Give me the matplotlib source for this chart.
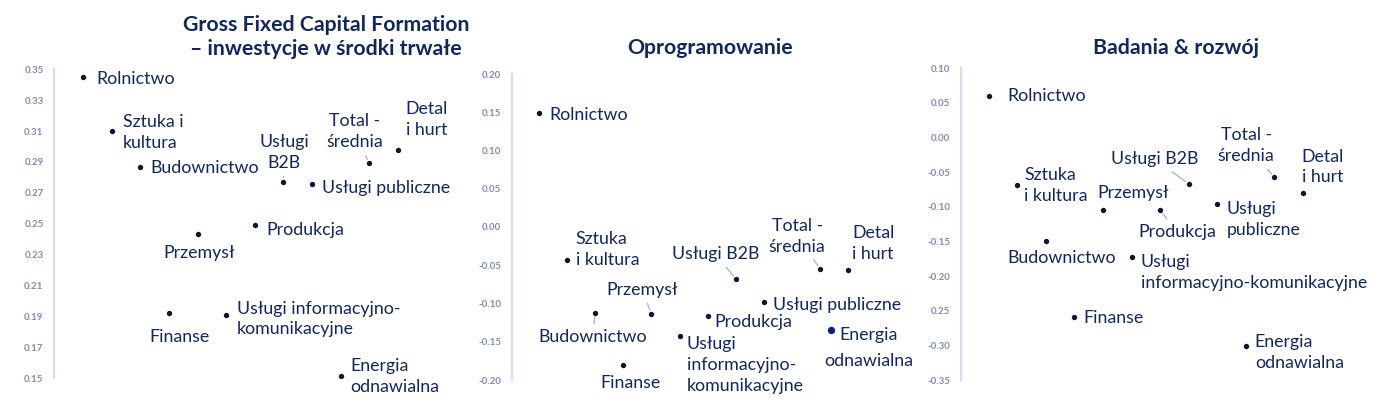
import matplotlib.pyplot as plt

plt.rcParams['font.family'] = ['Lato', 'DejaVu Sans']

# sectors, in the order they sit along the (hidden) x axis
sectors = ['Rolnictwo', 'Sztuka i kultura', 'Budownictwo', 'Finanse', 'Przemysł',
           'Usługi informacyjno-komunikacyjne', 'Produkcja', 'Usługi B2B',
           'Usługi publiczne', 'Energia odnawialna', 'Total - średnia', 'Detal i hurt']
x_gfcf = [0, 1, 2, 3, 4, 5, 6, 7, 8, 9, 10, 11]
x_soft = [0, 1, 2, 3, 4, 5, 6, 7, 8, 10.4, 10, 11]
x_rnd = [0, 1, 2, 3, 4, 5, 6, 7, 8, 9, 10, 11]

gfcf = [0.345, 0.310, 0.287, 0.192, 0.243, 0.1905, 0.249, 0.277, 0.276, 0.1515, 0.289, 0.298]
soft = [0.149, -0.043, -0.112, -0.181, -0.114, -0.143, -0.116, -0.068, -0.0985, -0.135, -0.055, -0.056]
rnd = [0.060, -0.069, -0.150, -0.259, -0.105, -0.172, -0.105, -0.067, -0.096, -0.301, -0.057, -0.080]

titles = ['Gross Fixed Capital Formation\n– inwestycje w środki trwałe', 'Oprogramowanie', 'Badania & rozwój']

ticks_gfcf = [0.35, 0.33, 0.31, 0.29, 0.27, 0.25, 0.23, 0.21, 0.19, 0.17, 0.15]
ticks_soft = [0.20, 0.15, 0.10, 0.05, 0.00, -0.05, -0.10, -0.15, -0.20]
ticks_rnd = [0.10, 0.05, 0.00, -0.05, -0.10, -0.15, -0.20, -0.25, -0.30, -0.35]
ticklab_gfcf = ['0.35', '0.33', '0.31', '0.29', '0.27', '0.25', '0.23', '0.21', '0.19', '0.17', '0.15']
ticklab_soft = ['0.20', '0.15', '0.10', '0.05', '0.00', '-0.05', '-0.10', '-0.15', '-0.20']
ticklab_rnd = ['0.10', '0.05', '0.00', '-0.05', '-0.10', '-0.15', '-0.20', '0.25', '-0.30', '-0.35']

# label text per panel (line breaks differ between panels)
lab_gfcf = ['Rolnictwo', 'Sztuka i\nkultura', 'Budownictwo', 'Finanse', 'Przemysł',
            'Usługi informacyjno-\nkomunikacyjne', 'Produkcja', 'Usługi\nB2B',
            'Usługi publiczne', 'Energia\nodnawialna', 'Total -\nśrednia', 'Detal\ni hurt']
lab_soft = ['Rolnictwo', 'Sztuka\ni kultura', 'Budownictwo', 'Finanse', 'Przemysł',
            'Usługi\ninformacyjno-\nkomunikacyjne', 'Produkcja', 'Usługi B2B',
            'Usługi publiczne', 'Energia', 'Total -\nśrednia', 'Detal\ni hurt']
lab_rnd = ['Rolnictwo', 'Sztuka\ni kultura', 'Budownictwo', 'Finanse', 'Przemysł',
           'Usługi\ninformacyjno-komunikacyjne', 'Produkcja', 'Usługi B2B',
           'Usługi\npubliczne', 'Energia\nodnawialna', 'Total -\nśrednia', 'Detal\ni hurt']

# label placement: (dx px, dy px downward, ha, leader line)
off_gfcf = [(13, 1.6, 'left', 0), (11, 1.5, 'left', 0), (10, 1, 'left', 0), (10, 24, 'center', 0),
            (2, 18.7, 'center', 0), (10.4, 3.5, 'left', 0), (11.3, 4.7, 'left', 0),
            (0.7, -29.5, 'center', 1), (10, 4.4, 'left', 0), (9.7, 0.8, 'left', 0),
            (-14.3, -31.5, 'center', 1), (8, -30.3, 'left', 0)]
off_soft = [(10.3, 2.4, 'left', 0), (8.6, -10.7, 'left', 0), (-2.7, 24.3, 'center', 1),
            (7, 18, 'center', 0), (-9.3, -24.3, 'center', 1), (7.3, 28.3, 'left', 0),
            (6.3, 6, 'left', 0), (-20, -24.7, 'center', 1), (9.3, 3, 'left', 0),
            (7.6, 5, 'left', 0), (-23, -33, 'center', 1), (4, -26.5, 'left', 0)]
off_rnd = [(18.3, 0, 'left', 0), (6.7, 0, 'left', 0), (15.7, 16.6, 'center', 0),
           (9, 1, 'left', 0), (29.8, -17, 'center', 0), (9.4, 16, 'left', 0),
           (16.7, 21.7, 'center', 1), (-33.7, -24.7, 'center', 1), (9, 15.5, 'left', 0),
           (9, 6.8, 'left', 0), (-28.3, -31.2, 'center', 1), (-1.3, -26, 'left', 0)]

navy = '#13275a'
dot = '#0d1630'
W, H = 1387, 408
fs = 12.8

fig = plt.figure(figsize=(W / 100, H / 100), dpi=100)

# axes boxes in pixels: spine x, right x, top y, bottom y ; plus xlim
boxes = [(54, 460, 69.3, 378, (-1.025, 13.18), (0.15, 0.35)),
         (511.7, 920, 74, 380, (-0.971, 13.55), (-0.20, 0.20)),
         (960.7, 1385, 68.3, 380, (-0.98, 13.87), (-0.35, 0.10))]
panels = [(x_gfcf, gfcf, ticks_gfcf, ticklab_gfcf, lab_gfcf, off_gfcf),
          (x_soft, soft, ticks_soft, ticklab_soft, lab_soft, off_soft),
          (x_rnd, rnd, ticks_rnd, ticklab_rnd, lab_rnd, off_rnd)]

for i in range(3):
    l, r, t, b, xl, yl = boxes[i]
    xs, ys, tks, tkl, labs, offs = panels[i]
    ax = fig.add_axes([l / W, 1 - b / H, (r - l) / W, (b - t) / H])
    ax.set_xlim(xl)
    ax.set_ylim(yl)
    for s in ['top', 'right', 'bottom']:
        ax.spines[s].set_visible(False)
    ax.spines['left'].set_color('#d3dcec')
    ax.spines['left'].set_linewidth(1.6)
    ax.set_xticks([])
    ax.set_yticks(tks)
    ax.set_yticklabels(tkl)
    ax.tick_params(axis='y', length=0, pad=7.5, labelsize=7, labelcolor='#7f8db0')
    for lb in ax.get_yticklabels():
        lb.set_fontweight('bold')
    ax.patch.set_alpha(0)

    for j in range(len(xs)):
        sz = 15
        col = dot
        if i == 1 and j == 9:
            sz = 28
            col = '#0a2470'
        ax.scatter(xs[j], ys[j], s=sz, color=col, zorder=3, linewidths=0)
        dx, dy, ha, lead = offs[j]
        kw = {}
        if lead:
            kw['arrowprops'] = dict(arrowstyle='-', color='#a4b0c8', lw=0.9, shrinkA=2, shrinkB=3)
        ax.annotate(labs[j], (xs[j], ys[j]), xytext=(dx, -dy), textcoords='offset pixels',
                    ha=ha, va='center', fontsize=fs, color=navy, linespacing=1.38,
                    annotation_clip=False, **kw)
    if i == 1:
        ax.annotate('odnawialna', (xs[9], ys[9]), xytext=(-6.7, -30.7), textcoords='offset pixels',
                    ha='left', va='center', fontsize=fs, color=navy, annotation_clip=False)

fig.text(326 / W, 1 - 37 / H, titles[0], ha='center', va='center', fontsize=15.3,
         fontweight='bold', color=navy, linespacing=1.3)
fig.text(710 / W, 1 - 48 / H, titles[1], ha='center', va='center', fontsize=15.3,
         fontweight='bold', color=navy)
fig.text(1176 / W, 1 - 48 / H, titles[2], ha='center', va='center', fontsize=15.3,
         fontweight='bold', color=navy)

fig.savefig('out.png', dpi=100)
